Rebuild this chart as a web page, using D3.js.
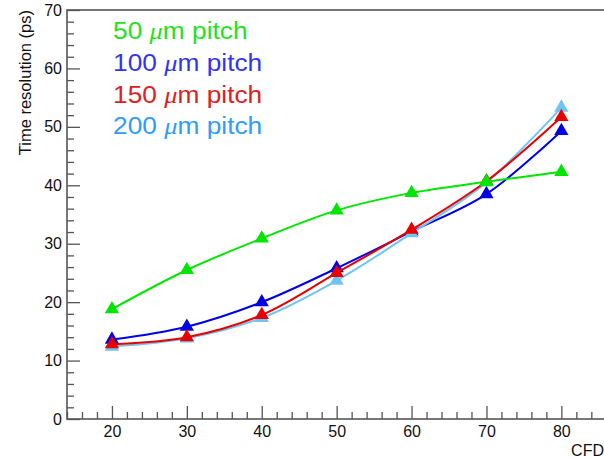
<!DOCTYPE html>
<html>
<head>
<meta charset="utf-8">
<script src="https://cdn.jsdelivr.net/npm/d3@7"></script>
<style>
  body { margin: 0; background: #fff; }
  text { font-family: "Liberation Sans", Arial, sans-serif; }
</style>
</head>
<body>
<div id="chart"></div>
<script>
// CFD fraction (%) on x, time resolution (ps) on y
var cfd = [20, 30, 40, 50, 60, 70, 80];
var res50 = [18.8, 25.5, 30.9, 35.7, 38.7, 40.6, 42.3];
var res100 = [13.6, 15.8, 20.0, 25.8, 32.1, 38.5, 49.3];
var res150 = [12.8, 14.0, 17.8, 25.0, 32.4, 40.7, 51.7];
var res200 = [12.4, 13.8, 17.3, 23.7, 31.8, 40.5, 53.3];
var pitchLabels = ["50", "100", "150", "200"];
var yTicks = [0, 10, 20, 30, 40, 50, 60, 70];
var xTicks = [20, 30, 40, 50, 60, 70, 80];

var width = 604, height = 459;
var series = [
  { name: "100", vals: res100, color: "#0000e6" },
  { name: "200", vals: res200, color: "#70c4f2" },
  { name: "150", vals: res150, color: "#e60000" },
  { name: "50",  vals: res50,  color: "#00e600" }
];
var legendColor = { "50": "#1ee31e", "100": "#3333f0", "150": "#dd2020", "200": "#2f9cf7" };

var svg = d3.select("#chart").append("svg").attr("width", width).attr("height", height);

var x = d3.scaleLinear().domain([14, 86]).range([67, 606.3]);
var y = d3.scaleLinear().domain([0, 70]).range([419, 10]);

// minor ticks
svg.append("g").attr("transform", "translate(0,419)")
  .call(d3.axisBottom(x).tickValues(d3.range(14, 87, 2).filter(function(d) { return d % 10 != 0; }))
    .tickSizeInner(-7).tickSizeOuter(0).tickFormat(""));
svg.append("g").attr("transform", "translate(67,0)")
  .call(d3.axisLeft(y).tickValues(d3.range(0, 71, 2).filter(function(d) { return d % 10 != 0; }))
    .tickSizeInner(-7).tickSizeOuter(0).tickFormat(""));

// major ticks + labels
svg.append("g").attr("class", "x axis").attr("transform", "translate(0,419)")
  .call(d3.axisBottom(x).tickValues(xTicks).tickSizeInner(-13).tickSizeOuter(0).tickPadding(7));
svg.append("g").attr("class", "y axis").attr("transform", "translate(67,0)")
  .call(d3.axisLeft(y).tickValues(yTicks).tickSizeInner(-13).tickSizeOuter(0).tickPadding(5));

svg.selectAll(".domain").remove();
svg.selectAll(".tick line").attr("stroke", "#555").attr("stroke-width", 1.3);
svg.selectAll(".tick text").attr("font-size", 16).attr("fill", "#111")
  .attr("font-family", "Liberation Sans, Arial, sans-serif");

// frame
svg.append("rect").attr("x", 67).attr("y", 10).attr("width", 539).attr("height", 409)
  .attr("fill", "none").attr("stroke", "#555").attr("stroke-width", 1.6);

// axis titles
svg.append("text").attr("transform", "translate(25,10) rotate(-90)")
  .attr("text-anchor", "end").attr("dy", "0.35em").attr("font-size", 16.5).attr("fill", "#111")
  .text("Time resolution (ps)");
svg.append("text").attr("x", 604).attr("y", 456).attr("text-anchor", "end")
  .attr("font-size", 16).attr("fill", "#111").text("CFD");

// curves and markers
var line = d3.line().curve(d3.curveCatmullRom.alpha(0.5))
  .x(function(d, i) { return x(cfd[i]); })
  .y(function(d) { return y(d); });
var tri = d3.symbol().type(d3.symbolTriangle).size(88);

series.forEach(function(s) {
  svg.append("path").datum(s.vals).attr("d", line)
    .attr("fill", "none").attr("stroke", s.color).attr("stroke-width", 2);
  svg.append("g").selectAll("path").data(s.vals).enter().append("path")
    .attr("d", tri)
    .attr("transform", function(d, i) { return "translate(" + x(cfd[i]) + "," + y(d) + ")"; })
    .attr("fill", s.color);
});

// legend
var leg = svg.append("g").attr("transform", "translate(113,0) scale(1.12,1)");
pitchLabels.forEach(function(p, i) {
  var t = leg.append("text").attr("x", 0).attr("y", 39 + i * 31.8)
    .attr("font-size", 23.5).attr("fill", legendColor[p]);
  t.append("tspan").text(p + " ");
  t.append("tspan").attr("font-family", "Liberation Serif, serif").attr("font-style", "italic")
    .text("\u03bc");
  t.append("tspan").text("m pitch");
});
</script>
</body>
</html>
